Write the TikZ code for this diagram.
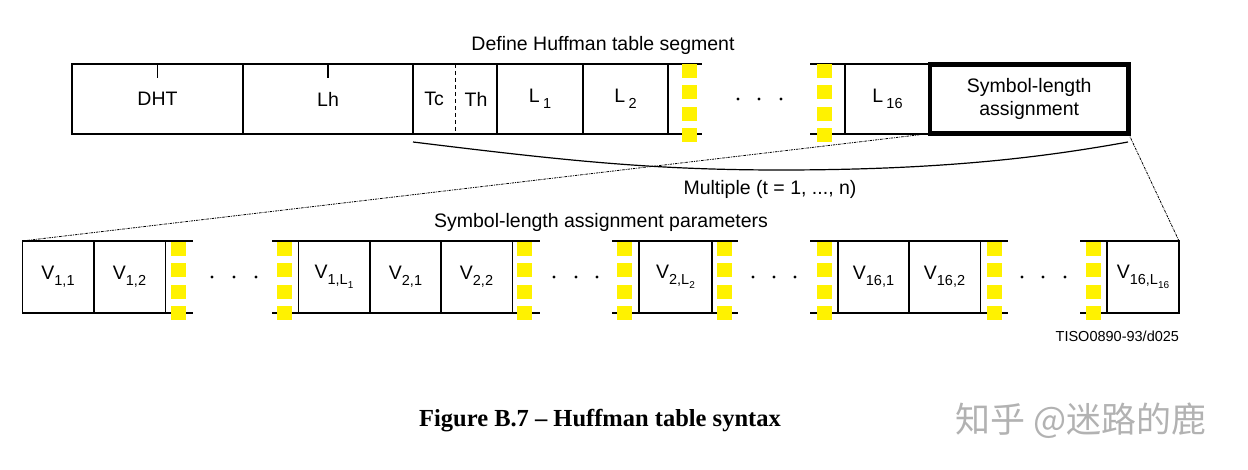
\documentclass[tikz,border=0pt]{standalone}
\usepackage{fontspec}
\setmainfont{Liberation Sans}
\newfontfamily\capfont{Liberation Serif}
\newfontfamily\cjk{Noto Sans CJK SC}
\newcommand\lsub[1]{\raisebox{-0.33em}{\fontsize{14.5}{14.5}\selectfont #1}}
\newcommand\llsub[1]{\raisebox{-0.28em}{\fontsize{10}{10}\selectfont #1}}
\newcommand\ycol[2]{\foreach \k in {0,1,2,3}{\fill[yfill] ({#1},{#2+21.3*\k}) rectangle ++(15,14);}}
\newcommand\tdots[4]{\foreach \xx in {#1,#2,#3}{\fill ({\xx},{#4}) circle (1.6pt);}}
\tikzset{
  lab/.style={font=\fontsize{19.5}{23}\selectfont, inner sep=0pt, outer sep=0pt},
  cell/.style={lab, draw, line width=1.5pt, minimum height=70pt},
  bcell/.style={lab, draw, line width=1.5pt, minimum height=72pt, minimum width=71.5pt},
  rowline/.style={line width=1.5pt},
  yfill/.style={fill=yellow},
  dotline/.style={line width=0.8pt, dash pattern=on 2.5pt off 1pt on 0.8pt off 1pt},
}
\begin{document}
\begin{tikzpicture}[x=1pt,y=-1pt]
\useasboundingbox (0,0) rectangle (1248,470);
% title
\node[lab] (title) at (603,45) {Define Huffman table segment};
% top row
\node[cell, minimum width=171pt] (dht) at (157.5,99) {DHT};
\node[cell, minimum width=170pt] (lh) at (328,99) {Lh};
\node[lab, minimum width=42pt, minimum height=70pt] (tc) at (434,99) {Tc};
\node[lab, minimum width=42pt, minimum height=70pt] (th) at (476,99) {Th};
\draw[rowline] (tc.north west) rectangle (th.south east);
\draw[line width=0.7pt, dash pattern=on 4pt off 3pt] (tc.north east) -- (tc.south east);
\node[cell, minimum width=86pt] (l1) at (540,99) {L\,\lsub{1}};
\node[cell, minimum width=85pt] (l2) at (625.5,99) {L\,\lsub{2}};
\draw[rowline] (l2.north east) -- (702,64) (l2.south east) -- (702,134);
\draw[rowline] (810,64) -- (845,64) (810,134) -- (845,134);
\node[cell, minimum width=85pt] (l16) at (887.5,99) {L\,\lsub{16}};
\node[lab, draw, line width=4.5pt, minimum width=198.5pt, minimum height=69pt, align=center, font=\fontsize{19.5}{23.5}\selectfont] (sym) at (1029.25,99) {Symbol-length\\assignment};
\draw[rowline] (dht.north) -- ++(0,14);
\draw[rowline] (lh.north) -- ++(0,14);
\ycol{682}{64}
\ycol{817}{64}
\tdots{738}{759}{781}{99}
% brace curve
\coordinate (cl) at (413,142);
\coordinate (cr) at (1128,142);
\draw[line width=1.2pt] (cl) .. controls (560,160) and (650,170) .. (780,170) .. controls (950,170) and (1050,156) .. (cr);
\node[lab] (mult) at (770,189) {Multiple (t = 1, ..., n)};
\node[lab] (slap) at (601,222) {Symbol-length assignment parameters};
% bottom row
\node[bcell] (v11) at (58,277) {V\lsub{1,1}};
\node[bcell] (v12) at (129.5,277) {V\lsub{1,2}};
\draw[rowline] (v12.north east) -- (193,241) (v12.south east) -- (193,313);
\draw[rowline] (272,241) -- (298,241) (272,313) -- (298,313);
\node[bcell] (v1l) at (334,277) {V\lsub{1,L\llsub{1}}};
\node[bcell] (v21) at (405.5,277) {V\lsub{2,1}};
\node[bcell] (v22) at (476.5,277) {V\lsub{2,2}};
\draw[rowline] (v22.north east) -- (540,241) (v22.south east) -- (540,313);
\draw[rowline] (612,241) -- (639,241) (612,313) -- (639,313);
\node[bcell, minimum width=73pt] (v2l) at (675.5,277) {V\lsub{2,L\llsub{2}}};
\draw[rowline] (v2l.north east) -- (738,241) (v2l.south east) -- (738,313);
\draw[rowline] (810,241) -- (838,241) (810,313) -- (838,313);
\node[bcell] (v161) at (873.5,277) {V\lsub{16,1}};
\node[bcell] (v162) at (944.5,277) {V\lsub{16,2}};
\draw[rowline] (v162.north east) -- (1008,241) (v162.south east) -- (1008,313);
\draw[rowline] (1080,241) -- (1107,241) (1080,313) -- (1107,313);
\node[bcell, minimum width=72pt] (v16l) at (1143,277) {V\lsub{16,L\llsub{16}}};
\ycol{171}{242}
\ycol{277}{242}
\ycol{517}{242}
\ycol{617}{242}
\ycol{717}{242}
\ycol{817}{242}
\ycol{987}{242}
\ycol{1086}{242}
\tdots{212}{234}{256}{277}
\tdots{554}{576}{597}{277}
\tdots{753}{774}{795}{277}
\tdots{1022}{1043}{1065}{277}
% dotted expansion lines
\draw[dotline] (sym.south west) -- (v11.north west);
\draw[dotline] (sym.south east) -- (v16l.north east);
\node[lab, font=\fontsize{14.5}{17}\selectfont, anchor=east] (tiso) at (1179,336) {TISO0890-93/d025};
% caption
\node[lab, font=\capfont\bfseries\fontsize{24.5}{29}\selectfont] (cap) at (600,421) {Figure B.7 – Huffman table syntax};
\node[lab, font=\cjk\fontsize{35}{38}\selectfont, text=black!30] (wm) at (1081,421) {知乎 @迷路的鹿};
\end{tikzpicture}
\end{document}
